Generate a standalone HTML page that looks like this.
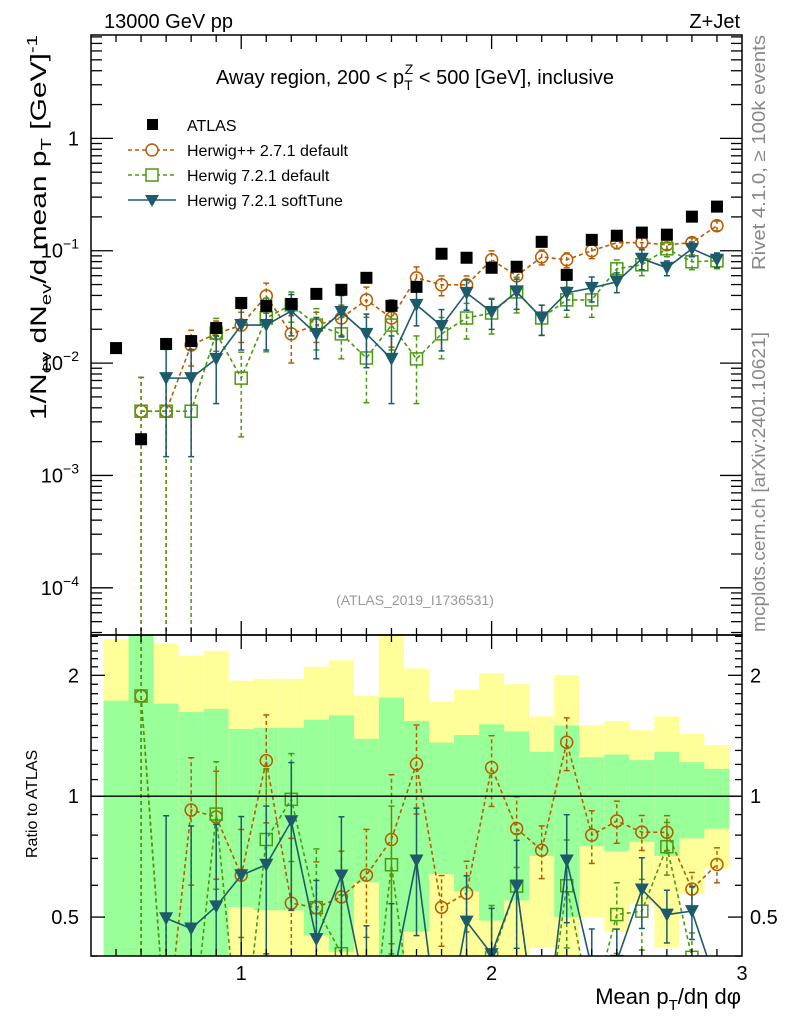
<!DOCTYPE html>
<html><head><meta charset="utf-8">
<style>
html,body{margin:0;padding:0;background:#fff;overflow:hidden;}
svg{display:block;font-family:"Liberation Sans",sans-serif;}
</style></head>
<body>
<svg id="chart" width="786" height="1024" viewBox="0 0 786 1024" xmlns="http://www.w3.org/2000/svg">
<defs>
<clipPath id="clipMain"><rect x="91" y="35" width="651" height="600"/></clipPath>
<clipPath id="clipRatio"><rect x="91" y="635" width="651" height="321"/></clipPath>
</defs>
<g id="bands" clip-path="url(#clipRatio)"></g>
<g id="mainMarks" clip-path="url(#clipMain)"></g>
<g id="ratioMarks" clip-path="url(#clipRatio)"></g>
<g id="axes"></g>
<text x="104" y="28" font-size="20">13000 GeV pp</text>
<text x="740" y="28" font-size="20" text-anchor="end">Z+Jet</text>
<text x="415" y="84" font-size="20" text-anchor="middle">Away region, 200 &lt; p<tspan dy="6" font-size="14">T</tspan><tspan dy="-16" dx="-8" font-size="14">Z</tspan><tspan dy="10"> &lt; 500 [GeV], inclusive</tspan></text>
<text x="415" y="605" font-size="14" fill="#999" text-anchor="middle">(ATLAS_2019_I1736531)</text>
<text transform="translate(765,35) rotate(-90)" font-size="18" fill="#888" text-anchor="end" textLength="235" lengthAdjust="spacingAndGlyphs">Rivet 4.1.0, ≥ 100k events</text>
<text transform="translate(765,632) rotate(-90)" font-size="18" fill="#888" textLength="300" lengthAdjust="spacingAndGlyphs">mcplots.cern.ch [arXiv:2401.10621]</text>
<text transform="translate(46,420) rotate(-90)" font-size="22" textLength="385" lengthAdjust="spacingAndGlyphs">1/N<tspan dy="5" font-size="15">ev</tspan><tspan dy="-5"> dN</tspan><tspan dy="5" font-size="15">ev</tspan><tspan dy="-5">/d mean p</tspan><tspan dy="5" font-size="15">T</tspan><tspan dy="-5">  [GeV]</tspan><tspan dy="-9" font-size="15">-1</tspan></text>
<text transform="translate(37,858) rotate(-90)" font-size="16">Ratio to ATLAS</text>
<text x="741" y="1004" font-size="22" text-anchor="end">Mean p<tspan dy="6" font-size="15">T</tspan><tspan dy="-6">/dη dφ</tspan></text>
<g id="legend"></g>
</svg>
<script>
const binCenters = [0.5,0.6,0.7,0.8,0.9,1.0,1.1,1.2,1.3,1.4,1.5,1.6,1.7,1.8,1.9,2.0,2.1,2.2,2.3,2.4,2.5,2.6,2.7,2.8,2.9];
const atlasValues = [0.0136,0.0021,0.0148,0.0157,0.0205,0.0343,0.0323,0.0336,0.0413,0.0449,0.0574,0.0323,0.0477,0.094,0.0866,0.0705,0.072,0.120,0.061,0.125,0.136,0.145,0.139,0.201,0.247];
const herwigPPValues = [null,0.00373,0.00373,0.0145,0.0182,0.0218,0.0396,0.0182,0.0218,0.0252,0.0365,0.0252,0.0574,0.0497,0.0497,0.0831,0.0598,0.088,0.0831,0.100,0.118,0.118,0.113,0.118,0.167];
const herwig721Values = [null,0.00373,0.00373,0.00373,0.0185,0.00735,0.0252,0.033,0.0218,0.0182,0.0111,0.0218,0.0109,0.0182,0.0252,0.0279,0.043,0.0252,0.0365,0.0365,0.069,0.075,0.104,0.0798,0.0814];
const softTuneValues = [null,null,0.00735,0.00735,0.0109,0.0218,0.0218,0.0291,0.0182,0.0285,0.0182,0.0109,0.033,0.0214,0.0422,0.0285,0.043,0.0252,0.0422,0.0467,0.0529,0.0849,0.0705,0.104,0.0831];
const herwigPPRelErr = [0,1,1,0.35,0.3,0.3,0.3,0.45,0.3,0.3,0.3,0.45,0.25,0.2,0.2,0.2,0.2,0.15,0.15,0.15,0.12,0.1,0.1,0.1,0.1];
const herwig721RelErr = [0,1,1,1,0.35,0.7,0.5,0.3,0.4,0.4,0.6,0.4,0.6,0.4,0.35,0.35,0.35,0.3,0.3,0.3,0.2,0.2,0.15,0.15,0.15];
const softTuneRelErr = [0,0,0.8,0.8,0.6,0.4,0.4,0.4,0.4,0.4,0.5,0.6,0.35,0.4,0.3,0.3,0.3,0.3,0.3,0.25,0.2,0.2,0.15,0.15,0.15];
const atlasRelSigma = [0.73,1.6,0.70,0.62,0.65,0.47,0.48,0.48,0.55,0.59,0.39,0.76,0.54,0.36,0.42,0.51,0.45,0.29,0.50,0.25,0.27,0.23,0.29,0.215,0.17];
const mainTickLabels = ["1","10^-1","10^-2","10^-3","10^-4"];
const ratioTickLabels = ["0.5","1","2"];
const xTickLabels = ["1","2","3"];

const NS="http://www.w3.org/2000/svg";
const X0=91,X1=742,XMIN=0.4,XMAX=3.0;
const MY0=35,MY1=635,MLOGMAX=0.92,MLOGMIN=-4.42;
const RY0=635,RY1=956,RLOGMAX=Math.log10(2.52),RLOGMIN=Math.log10(0.40);
const BW=0.1;
function sx(v){return X0+(v-XMIN)/(XMAX-XMIN)*(X1-X0);}
function sy(v){return MY0+(MLOGMAX-Math.log10(Math.max(v,1e-9)))/(MLOGMAX-MLOGMIN)*(MY1-MY0);}
function ry(v){return RY0+(RLOGMAX-Math.log10(Math.max(v,1e-6)))/(RLOGMAX-RLOGMIN)*(RY1-RY0);}
function mk(tag,attrs,parent){const e=document.createElementNS(NS,tag);for(const k in attrs)e.setAttribute(k,attrs[k]);parent.appendChild(e);return e;}

const bands=document.getElementById('bands');
binCenters.forEach((c,i)=>{
  const s=atlasRelSigma[i];
  const y2=mk('rect',{x:sx(c-BW/2),width:sx(c+BW/2)-sx(c-BW/2),y:Math.max(ry(1+2*s),RY0),height:Math.min(ry(Math.max(1-2*s,0.001)),RY1)-Math.max(ry(1+2*s),RY0),fill:'#ffff99'},bands);
  
  
  const y1=mk('rect',{x:sx(c-BW/2),width:sx(c+BW/2)-sx(c-BW/2),y:Math.max(ry(1+s),RY0),height:Math.min(ry(Math.max(1-s,0.001)),RY1)-Math.max(ry(1+s),RY0),fill:'#99ff99'},bands);
  
  
});

const series=[
 {name:'herwigpp-2-7-1',vals:herwigPPValues,err:herwigPPRelErr,color:'#b85c00',dash:'4,3',marker:'circle'},
 {name:'herwig-7-2-1-default',vals:herwig721Values,err:herwig721RelErr,color:'#4a9a10',dash:'4,3',marker:'square'},
 {name:'herwig-7-2-1-softtune',vals:softTuneValues,err:softTuneRelErr,color:'#1d5b6b',dash:'',marker:'triangle'}
];
function marker(type,x,y,color,g){
  let e;
  if(type==='circle')e=mk('circle',{cx:x,cy:y,r:6,fill:'none',stroke:color,'stroke-width':1.5},g);
  else if(type==='square')e=mk('rect',{x:x-6,y:y-6,width:12,height:12,fill:'none',stroke:color,'stroke-width':1.5},g);
  else if(type==='triangle')e=mk('polygon',{points:`${x-7},${y-6} ${x+7},${y-6} ${x},${y+7}`,fill:color},g);
  else e=mk('rect',{x:x-6,y:y-6,width:12,height:12,fill:'#000'},g);
  
  
  return e;
}
function drawSeries(parent,s,valFn,yfn,minY){
  const g=mk('g',{},parent);
  
  
  let pts=[];
  binCenters.forEach((c,i)=>{
    const v=valFn(i);
    if(v===null){if(pts.length)flush();return;}
    pts.push([sx(c),yfn(v)]);
    const lo=v*(1-s.err[i]),hi=v*(1+s.err[i]);
    const yl=lo<=0?minY:Math.min(yfn(lo),minY),yh=yfn(hi);
    if(s.err[i]>0){
      const eb=mk('line',{x1:sx(c),x2:sx(c),y1:yl,y2:yh,stroke:s.color,'stroke-width':1.5,'stroke-dasharray':s.dash},g);
      
      
      mk('line',{x1:sx(c)-3,x2:sx(c)+3,y1:yh,y2:yh,stroke:s.color,'stroke-width':1.5},g);
      if(lo>0)mk('line',{x1:sx(c)-3,x2:sx(c)+3,y1:yl,y2:yl,stroke:s.color,'stroke-width':1.5},g);
    }
  });
  flush();
  function flush(){
    if(pts.length>1){const l=mk('polyline',{points:pts.map(p=>p.join(',')).join(' '),fill:'none',stroke:s.color,'stroke-width':1.6,'stroke-dasharray':s.dash},g);
      
      }
    pts=[];
  }
  binCenters.forEach((c,i)=>{const v=valFn(i);if(v!==null)marker(s.marker,sx(c),yfn(v),s.color,g);});
}
const mainG=document.getElementById('mainMarks');
const ratioG=document.getElementById('ratioMarks');
series.forEach(s=>{
  drawSeries(mainG,s,i=>s.vals[i],sy,MY1+10);
  drawSeries(ratioG,s,i=>s.vals[i]===null?null:s.vals[i]/atlasValues[i],ry,RY1+10);
});
binCenters.forEach((c,i)=>{const m=marker('atlas',sx(c),sy(atlasValues[i]),'#000',mainG);});

const ax=document.getElementById('axes');
function line(x1,y1,x2,y2,w){return mk('line',{x1,y1,x2,y2,stroke:'#000','stroke-width':w||1.3},ax);}
const r1=mk('line',{x1:X0,x2:X1,y1:ry(1),y2:ry(1),stroke:'#000','stroke-width':1.3},ax);


const fr1=mk('rect',{x:X0,y:MY0,width:X1-X0,height:MY1-MY0,fill:'none',stroke:'#000','stroke-width':1.5},ax);


const fr2=mk('rect',{x:X0,y:RY0,width:X1-X0,height:RY1-RY0,fill:'none',stroke:'#000','stroke-width':1.5},ax);


for(let k=5;k<=29;k++){
  const v=k/10,x=sx(v),maj=(k%10===0),L=maj?14:7;
  [MY0,RY0].forEach(y=>line(x,y,x,y+L));
  [MY1,RY1].forEach(y=>line(x,y,x,y-L));
}
xTickLabels.forEach(t=>{const e=mk('text',{x:sx(+t),y:980,'font-size':20,'text-anchor':'middle'},ax);e.textContent=t;
  
  });
for(let d=-5;d<=0;d++){
  for(let m=1;m<=9;m++){
    const v=m*Math.pow(10,d),y=sy(v);
    if(y<MY0||y>MY1)continue;
    const L=m===1?22:11;
    line(X0,y,X0+L,y);line(X1,y,X1-L,y);
  }
}
mainTickLabels.forEach((t,i)=>{
  const y=sy(Math.pow(10,-i))+7;
  const e=mk('text',{x:X0-12,y:y,'font-size':20,'text-anchor':'end'},ax);
  
  
  if(t.indexOf('^')<0)e.textContent=t;
  else{const p=t.split('^');e.textContent=p[0];const ts=mk('tspan',{dy:-9,'font-size':14},e);ts.textContent=p[1].replace('-','\u2212');}
});
const rt=[0.4,0.5,0.6,0.7,0.8,0.9,1,1.1,1.2,1.3,1.4,1.5,1.6,1.7,1.8,1.9,2,2.1,2.2,2.3,2.4,2.5];
rt.forEach(v=>{const y=ry(v);if(y<RY0||y>RY1)return;const maj=(v===0.5||v===1||v===2);const L=maj?14:7;line(X0,y,X0+L,y);line(X1,y,X1-L,y);});
ratioTickLabels.forEach(t=>{
  const y=ry(+t)+7;
  const a=mk('text',{x:X0-12,y:y,'font-size':20,'text-anchor':'end'},ax);a.textContent=t;
  
  
  const b=mk('text',{x:X1+8,y:y,'font-size':20},ax);b.textContent=t;
  
  
});
const lg=document.getElementById('legend');
const legItems=[['ATLAS','atlas','#000',''],['Herwig++ 2.7.1 default','circle','#b85c00','4,3'],['Herwig 7.2.1 default','square','#4a9a10','4,3'],['Herwig 7.2.1 softTune','triangle','#1d5b6b','']];
legItems.forEach((it,i)=>{
  const y=125+i*25;
  const g=mk('g',{},lg);
  
  
  if(i>0)mk('line',{x1:128,x2:176,y1:y,y2:y,stroke:it[2],'stroke-width':1.5,'stroke-dasharray':it[3]},g);
  if(i===0)mk('rect',{x:147,y:y-6,width:11,height:11,fill:'#000'},g);
  else if(it[1]==='circle')mk('circle',{cx:152,cy:y,r:6,fill:'#fff',stroke:it[2],'stroke-width':1.5},g);
  else if(it[1]==='square')mk('rect',{x:146,y:y-6,width:12,height:12,fill:'#fff',stroke:it[2],'stroke-width':1.5},g);
  else mk('polygon',{points:`145,${y-5} 159,${y-5} 152,${y+7}`,fill:it[2]},g);
  const t=mk('text',{x:187,y:y+6,'font-size':16},g);t.textContent=it[0];
});
</script>
</body></html>
